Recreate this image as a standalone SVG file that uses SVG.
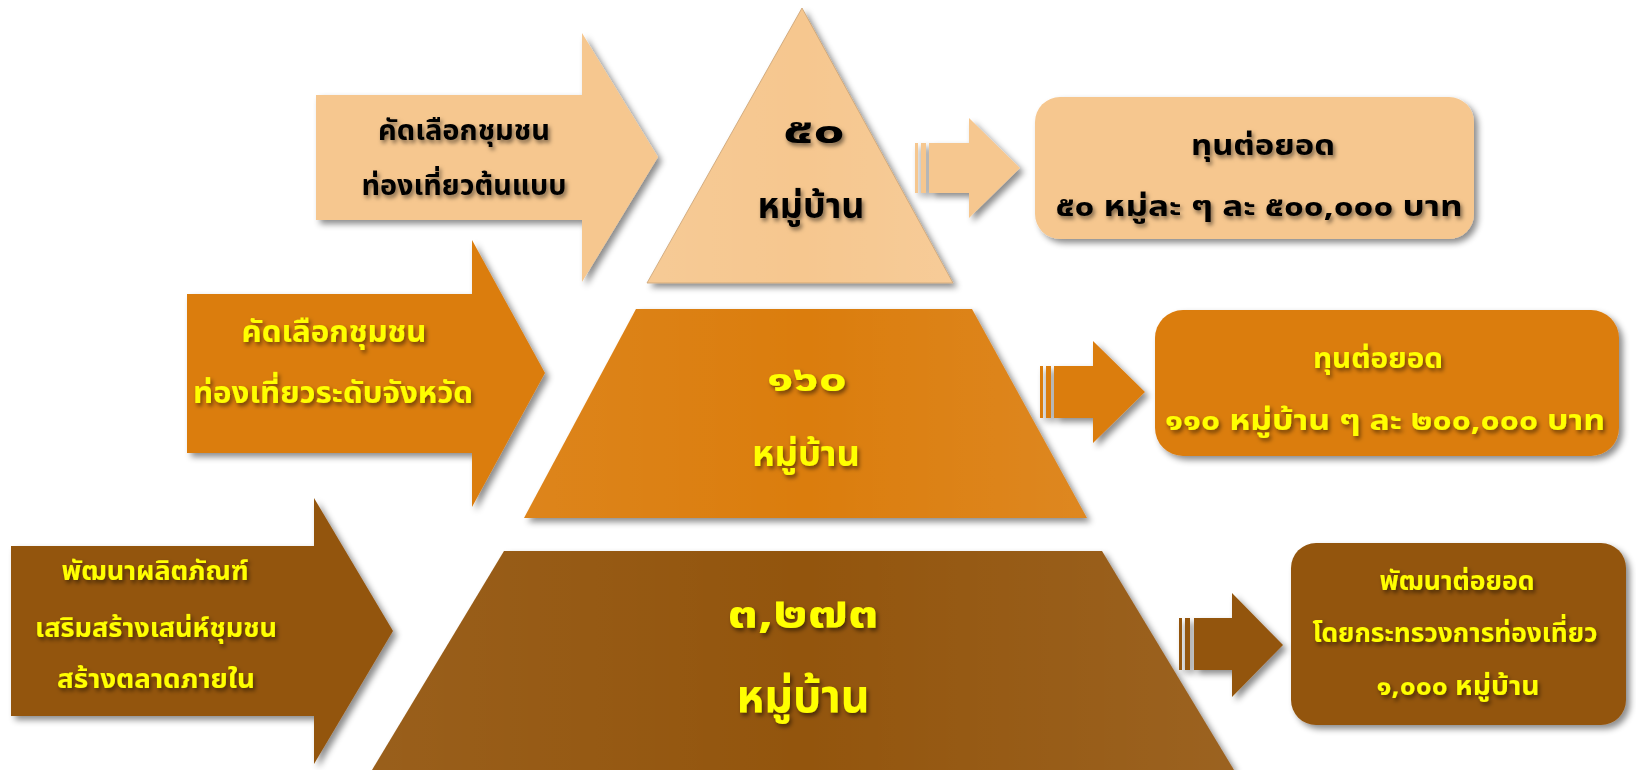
<svg xmlns="http://www.w3.org/2000/svg" width="1636" height="770" viewBox="0 0 1636 770">
<defs>
<style>
text{font-family:"Noto Sans Thai","Noto Sans Thai UI",Tahoma,"Noto Sans","DejaVu Sans",sans-serif;font-weight:bold;text-anchor:middle}
.blk{fill:#000}
.yel{fill:#FFFF00}
.t1{fill:#F6C78F}
.t2{fill:#DB7D11}
.t3{fill:#93550D}
</style>
<filter id="sh" x="-10%" y="-10%" width="125%" height="125%">
<feDropShadow dx="4" dy="4" stdDeviation="3" flood-color="#000" flood-opacity="0.45"/>
</filter>
<filter id="tsh" x="-10%" y="-30%" width="125%" height="170%">
<feDropShadow dx="2" dy="3" stdDeviation="2" flood-color="#000" flood-opacity="0.5"/>
</filter>
<linearGradient id="bev" x1="0" y1="0" x2="1" y2="0">
<stop offset="0" stop-color="#fff" stop-opacity="0.06"/>
<stop offset="0.5" stop-color="#fff" stop-opacity="0"/>
<stop offset="1" stop-color="#fff" stop-opacity="0.08"/>
</linearGradient>
</defs>
<rect width="1636" height="770" fill="#fff"/>

<g id="arrow-top">
<polygon class="t1" points="316,95 582,95 582,33 658,157 582,282 582,220 316,220" filter="url(#sh)"/>
<g filter="url(#tsh)">
<text class="blk" x="464" y="140" font-size="28" textLength="172" lengthAdjust="spacingAndGlyphs">คัดเลือกชุมชน</text>
<text class="blk" x="464" y="195" font-size="28" textLength="205" lengthAdjust="spacingAndGlyphs">ท่องเที่ยวต้นแบบ</text>
</g>
</g>

<g id="arrow-mid">
<polygon class="t2" points="187,294 472,294 472,240 545,373 472,507 472,453 187,453" filter="url(#sh)"/>
<g filter="url(#tsh)">
<text class="yel" x="334" y="342" font-size="30" textLength="185" lengthAdjust="spacingAndGlyphs">คัดเลือกชุมชน</text>
<text class="yel" x="333" y="403" font-size="30" textLength="280" lengthAdjust="spacingAndGlyphs">ท่องเที่ยวระดับจังหวัด</text>
</g>
</g>

<g id="arrow-bot">
<polygon class="t3" points="11,546 314,546 314,498 393,631 314,764 314,716 11,716" filter="url(#sh)"/>
<g filter="url(#tsh)">
<text class="yel" x="155" y="580" font-size="27" textLength="187" lengthAdjust="spacingAndGlyphs">พัฒนาผลิตภัณฑ์</text>
<text class="yel" x="156" y="637" font-size="27" textLength="242" lengthAdjust="spacingAndGlyphs">เสริมสร้างเสน่ห์ชุมชน</text>
<text class="yel" x="156" y="688" font-size="27" textLength="198" lengthAdjust="spacingAndGlyphs">สร้างตลาดภายใน</text>
</g>
</g>

<g id="pyr-top">
<polygon class="t1" points="802,8 953,283 647,283" filter="url(#sh)" stroke="#c9a070" stroke-width="0.8"/>
<polygon points="802,8 953,283 647,283" fill="url(#bev)"/>
<g filter="url(#tsh)">
<text class="blk" x="814" y="143" font-size="36" textLength="62" lengthAdjust="spacingAndGlyphs">๕๐</text>
<text class="blk" x="811" y="218" font-size="36" textLength="107" lengthAdjust="spacingAndGlyphs">หมู่บ้าน</text>
</g>
</g>

<g id="pyr-mid">
<polygon class="t2" points="636,309 972,309 1087,518 524,518" filter="url(#sh)"/>
<polygon points="636,309 972,309 1087,518 524,518" fill="url(#bev)"/>
<g filter="url(#tsh)">
<text class="yel" x="807" y="391" font-size="36" textLength="80" lengthAdjust="spacingAndGlyphs">๑๖๐</text>
<text class="yel" x="806" y="466" font-size="36" textLength="108" lengthAdjust="spacingAndGlyphs">หมู่บ้าน</text>
</g>
</g>

<g id="pyr-bot">
<polygon class="t3" points="504,551 1102,551 1234,770 372,770" filter="url(#sh)"/>
<polygon points="504,551 1102,551 1234,770 372,770" fill="url(#bev)"/>
<g filter="url(#tsh)">
<text class="yel" x="803" y="627" font-size="44" textLength="151" lengthAdjust="spacingAndGlyphs">๓,๒๗๓</text>
<text class="yel" x="803" y="712" font-size="46" textLength="133" lengthAdjust="spacingAndGlyphs">หมู่บ้าน</text>
</g>
</g>

<g id="connectors" filter="url(#sh)">
<g class="t1">
<rect x="915" y="143" width="3" height="50"/>
<rect x="921" y="143" width="5" height="50"/>
<polygon points="929,143 969,143 969,118 1020,168 969,218 969,193 929,193"/>
</g>
<g class="t2">
<rect x="1040" y="366" width="3" height="52"/>
<rect x="1046" y="366" width="5" height="52"/>
<polygon points="1054,366 1093,366 1093,341 1145,392 1093,443 1093,418 1054,418"/>
</g>
<g class="t3">
<rect x="1179" y="618" width="3" height="52"/>
<rect x="1185" y="618" width="5" height="52"/>
<polygon points="1194,618 1232,618 1232,593 1283,645 1232,697 1232,670 1194,670"/>
</g>
</g>

<g id="box-top">
<rect class="t1" x="1035" y="97" width="439" height="142" rx="25" filter="url(#sh)"/>
<g filter="url(#tsh)">
<text class="blk" x="1263" y="155" font-size="29" textLength="144" lengthAdjust="spacingAndGlyphs">ทุนต่อยอด</text>
<text class="blk" x="1259" y="216" font-size="29" textLength="407" lengthAdjust="spacingAndGlyphs">๕๐ หมู่ละ ๆ ละ ๕๐๐,๐๐๐ บาท</text>
</g>
</g>

<g id="box-mid">
<rect class="t2" x="1155" y="310" width="464" height="146" rx="28" filter="url(#sh)"/>
<g filter="url(#tsh)">
<text class="yel" x="1378" y="368" font-size="29" textLength="130" lengthAdjust="spacingAndGlyphs">ทุนต่อยอด</text>
<text class="yel" x="1385" y="430" font-size="29" textLength="440" lengthAdjust="spacingAndGlyphs">๑๑๐ หมู่บ้าน ๆ ละ ๒๐๐,๐๐๐ บาท</text>
</g>
</g>

<g id="box-bot">
<rect class="t3" x="1291" y="543" width="335" height="182" rx="25" filter="url(#sh)"/>
<g filter="url(#tsh)">
<text class="yel" x="1457" y="590" font-size="27" textLength="155" lengthAdjust="spacingAndGlyphs">พัฒนาต่อยอด</text>
<text class="yel" x="1455" y="642" font-size="27" textLength="285" lengthAdjust="spacingAndGlyphs">โดยกระทรวงการท่องเที่ยว</text>
<text class="yel" x="1458" y="695" font-size="27" textLength="163" lengthAdjust="spacingAndGlyphs">๑,๐๐๐ หมู่บ้าน</text>
</g>
</g>
</svg>
